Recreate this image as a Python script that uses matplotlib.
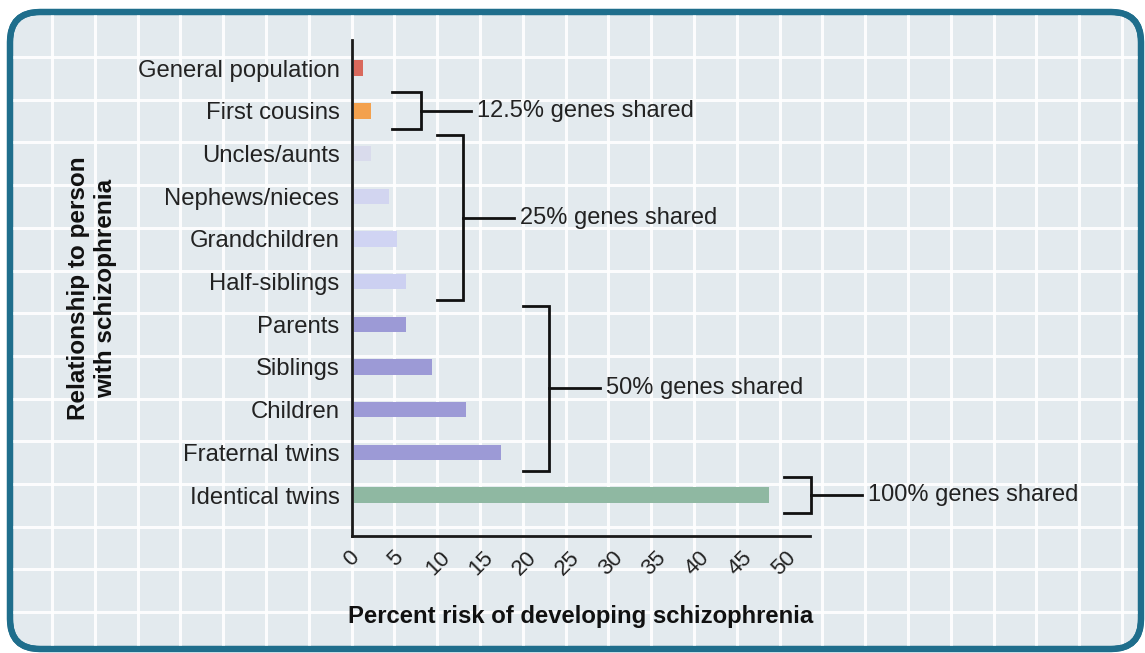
import numpy as np
import matplotlib.pyplot as plt
import matplotlib.transforms as mtransforms
from matplotlib.patches import FancyBboxPatch

plt.rcParams['font.family'] = ['Liberation Sans', 'DejaVu Sans']

# data
relations = ["General population", "First cousins", "Uncles/aunts", "Nephews/nieces",
             "Grandchildren", "Half-siblings", "Parents", "Siblings", "Children",
             "Fraternal twins", "Identical twins"]
risk = [1, 2, 2, 4, 5, 6, 6, 9, 13, 17, 48]
bar_colors = ["#d9695c", "#f3a14e", "#d9dbec", "#d2d5f0", "#d0d4f3", "#ccd0f1",
              "#9c9ad6", "#9c9ad6", "#9c9ad6", "#9c9ad6", "#8fb8a2"]
ticks = [0, 5, 10, 15, 20, 25, 30, 35, 40, 45, 50]

# groups of relatives: (label, first row, last row)
groups = [("12.5% genes shared", 1, 1),
          ("25% genes shared", 2, 5),
          ("50% genes shared", 6, 9),
          ("100% genes shared", 10, 10)]
# bracket x placement (left, right, end of stem) for each group
bracket_x = [(4.6, 8.0, 13.8), (9.8, 12.8, 18.8), (19.8, 22.8, 28.7), (50.0, 53.1, 59.0)]

fig = plt.figure(figsize=(11.45, 6.53), dpi=100)

# decorative background panel with white grid
bg = fig.add_axes([0, 0, 1, 1], zorder=-1)
bg.set_xlim(0, 1145)
bg.set_ylim(653, 0)
bg.axis('off')
panel = FancyBboxPatch((10, 12), 1131, 637, boxstyle='round,pad=0,rounding_size=30',
                       fc='#e3eaee', ec='#1f6e8c', lw=4.5, zorder=0)
bg.add_patch(panel)
for gx in np.arange(52, 1145, 42.8):
    ln, = bg.plot([gx, gx], [0, 653], color='white', lw=2.2, alpha=0.9, zorder=1)
    ln.set_clip_path(panel)
for gy in np.arange(57, 653, 42.7):
    ln, = bg.plot([0, 1145], [gy, gy], color='white', lw=2.2, alpha=0.9, zorder=1)
    ln.set_clip_path(panel)
edge = FancyBboxPatch((10, 12), 1131, 637, boxstyle='round,pad=0,rounding_size=30',
                      fc='none', ec='#1f6e8c', lw=4.5, zorder=3)
bg.add_patch(edge)

ax = fig.add_axes([0.3074, 0.1792, 0.4, 0.7596])
ax.patch.set_alpha(0)
y = np.arange(len(relations))
ax.barh(y, risk, height=0.36, color=bar_colors, left=0.25)
ax.set_ylim(10.96, -0.66)
ax.set_xlim(0, 53)

for s in ['top', 'right']:
    ax.spines[s].set_visible(False)
for s in ['left', 'bottom']:
    ax.spines[s].set_linewidth(2)
    ax.spines[s].set_color('#1a1a1a')

ax.set_yticks(y)
ax.set_yticklabels(relations, fontsize=17.2, color='#222222')
ax.set_xticks(ticks)
ax.set_xticklabels([str(t) for t in ticks], fontsize=16, color='#222222',
                   rotation=45, ha='center')
shift = mtransforms.ScaledTranslation(-7 / 100, 0, fig.dpi_scale_trans)
for lab in ax.get_xticklabels():
    lab.set_transform(lab.get_transform() + shift)
ax.tick_params(axis='y', length=0, pad=9)
ax.tick_params(axis='x', length=0, pad=8)

ax.set_xlabel("Percent risk of developing schizophrenia", fontsize=17.2,
              fontweight='bold', color='#111111', labelpad=18)
ax.set_ylabel("Relationship to person\nwith schizophrenia", fontsize=17.5,
              fontweight='bold', color='#111111', labelpad=15, linespacing=1.2)

# brackets
for (label, r0, r1), (xl, xr, xe) in zip(groups, bracket_x):
    top = r0 - 0.43
    bot = r1 + 0.43
    mid = (r0 + r1) / 2
    ax.plot([xl, xr, xr, xl], [top, top, bot, bot], color='#111111', lw=2,
            clip_on=False, solid_joinstyle='miter')
    ax.plot([xr, xe], [mid, mid], color='#111111', lw=2, clip_on=False)
    ax.text(xe + 0.7, mid, label, fontsize=17, color='#222222', va='center',
            ha='left', clip_on=False)

fig.savefig('out.png', dpi=100)
